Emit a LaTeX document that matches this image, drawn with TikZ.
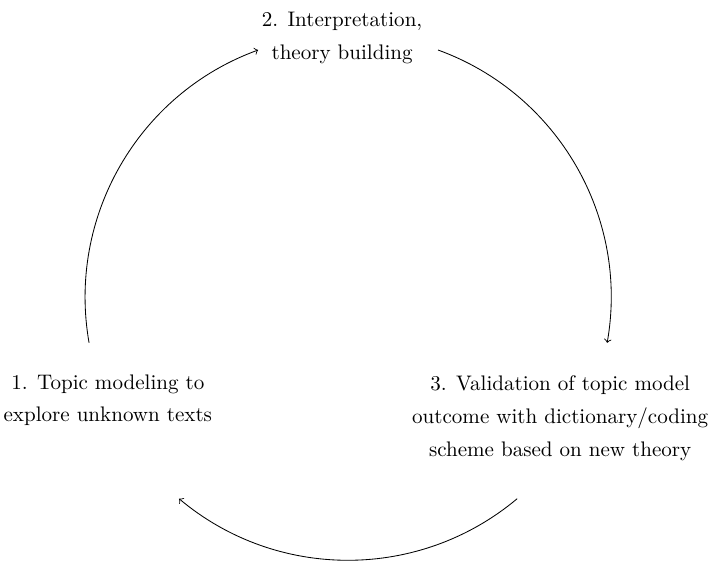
\documentclass[tikz,border=0pt]{standalone}
\begin{document}
\begin{tikzpicture}[
		every node/.style = {
			align=center,
			inner sep=0.1cm,
			font=\linespread{1.3}\selectfont
		}
		]
		\pgfmathsetmacro\radius{4.39}
		\useasboundingbox (-5.81,-4.42) rectangle (6.09,4.96);
		%\draw (0,0) circle (\radius);
		\node (interp) at (-0.10, 4.32) {2. Interpretation,\\theory building};
		\node (topics) at (-4.01, -1.72) {1. Topic modeling to\\explore unknown texts};
		\node (valid) at (3.54, -2.02) {3. Validation of topic model\\outcome with dictionary/coding\\scheme based on new theory};
		
		\coordinate (c190) at (190:\radius);
		\coordinate (c70) at (70:\radius);
		\coordinate (c310) at (310:\radius);
		
		\draw[->] (c190) arc[start angle=190, end angle=110, radius=\radius];
		\draw[->] (c70) arc[start angle=70, end angle=-10, radius=\radius];
		\draw[->] (c310) arc[start angle=310, end angle=230, radius=\radius];
	\end{tikzpicture}
\end{document}
